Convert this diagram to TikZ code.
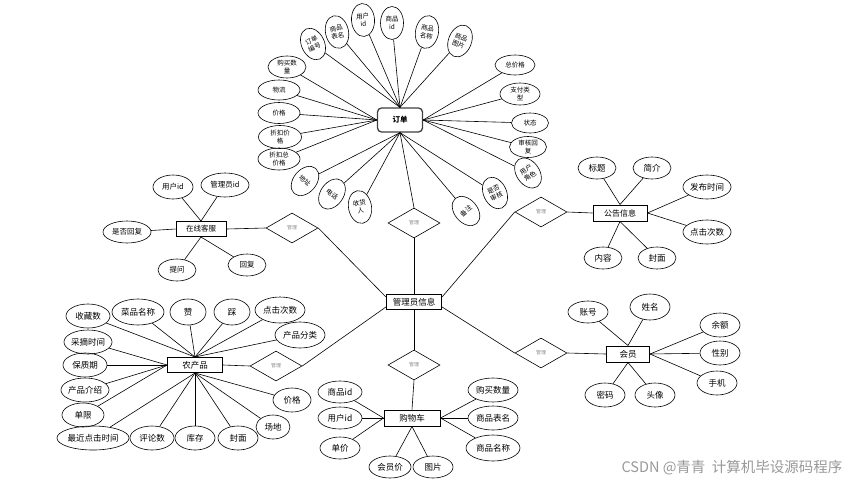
\documentclass[tikz,border=0pt]{standalone}
\usepackage{fontspec}
\setmainfont{Noto Sans CJK SC}
\usetikzlibrary{shapes.geometric}
\begin{document}
\begin{tikzpicture}[x=1pt,y=-1pt,
  ent/.style={draw, line width=1pt, rectangle, inner sep=0pt, font=\fontsize{8.5}{9}\selectfont},
  att/.style={draw, ellipse, line width=0.6pt, inner sep=0pt, align=center, font=\fontsize{8.5}{9}\selectfont},
  katt/.style={att, font=\fontsize{7.5}{8}\selectfont},
  oatt/.style={draw, ellipse, line width=0.6pt, inner sep=0pt, align=center, font=\fontsize{6.5}{7.5}\selectfont},
  ratt/.style={oatt, minimum width=23pt, minimum height=33pt},
  rel/.style={draw, diamond, line width=0.6pt, inner sep=0pt, minimum width=52pt, minimum height=30pt, text=black!45, font=\fontsize{5}{6}\selectfont},
  conn/.style={line width=0.6pt}
]
\fill[white] (0,0) rectangle (850,485);
\useasboundingbox (0,0) rectangle (850,485);

% ---------- central ----------
\node[ent, minimum width=55pt, minimum height=15pt] (admin) at (414,302) {管理员信息};
\node[rel] (d1) at (414,223) {管理};
\node[rel] (d2) at (414,365) {管理};
\node[rel] (d3) at (292,228) {管理};
\node[rel] (d4) at (541,212) {管理};
\node[rel] (d5) at (276,366) {管理};
\node[rel] (d6) at (541,353) {管理};

% ---------- order ----------
\node[ent, rounded corners=4pt, minimum width=45pt, minimum height=24pt, draw=black!75, line width=1.3pt, font=\fontsize{7.5}{8}\selectfont\bfseries] (order) at (400,120) {订单};
\node[ratt, rotate=25] (o1) at (313,44) {订单\\编号};
\node[ratt, rotate=12] (o2) at (337,32) {商品\\表名};
\node[ratt, rotate=4] (o3) at (363,20) {用户\\id};
\node[ratt, rotate=0] (o4) at (392,23) {商品\\id};
\node[ratt, rotate=-10] (o5) at (427,32) {商品\\名称};
\node[ratt, rotate=-22] (o6) at (460,41) {商品\\图片};
\node[oatt, minimum width=40pt, minimum height=20pt] (o7) at (515,65) {总价格};
\node[oatt, minimum width=40pt, minimum height=22pt] (o8) at (520,94) {支付类\\型};
\node[oatt, minimum width=37pt, minimum height=20pt] (o9) at (530,123) {状态};
\node[oatt, minimum width=37pt, minimum height=21pt] (o10) at (528,147) {审核回\\复};
\node[ratt, rotate=35] (o11) at (528,173) {用户\\角色};
\node[ratt, rotate=25] (o12) at (495,193) {是否\\审核};
\node[ratt, rotate=40] (o13) at (466,211) {备注};
\node[ratt, rotate=10] (o14) at (360,207) {收货\\人};
\node[ratt, rotate=-35] (o15) at (332,194) {电话};
\node[ratt, rotate=-40] (o16) at (305,181) {地址};
\node[oatt, minimum width=42pt, minimum height=22pt] (o17) at (279,159) {折扣总\\价格};
\node[oatt, minimum width=43pt, minimum height=23pt] (o18) at (280,137) {折扣价\\格};
\node[oatt, minimum width=42pt, minimum height=21pt] (o19) at (279,113) {价格};
\node[oatt, minimum width=42pt, minimum height=20pt] (o20) at (279,90) {物流};
\node[oatt, minimum width=38pt, minimum height=22pt] (o21) at (287,67) {购买数\\量};
\foreach \n in {o1,o2,o3,o4,o5,o6} \draw[conn] (\n) -- (order.north);
\foreach \n in {o7,o8,o9,o10,o11} \draw[conn] (\n) -- (order.east);
\foreach \n in {o12,o13,o14,o15,o16} \draw[conn] (\n) -- (order.south);
\foreach \n in {o17,o18,o19,o20,o21} \draw[conn] (\n) -- (order.west);

% ---------- online service ----------
\node[ent, minimum width=50pt, minimum height=15pt, font=\fontsize{7.5}{8}\selectfont] (kefu) at (201,229) {在线客服};
\node[katt, minimum width=40pt, minimum height=24pt] (k1) at (173,187) {用户id};
\node[katt, minimum width=48pt, minimum height=24pt] (k2) at (225,185) {管理员id};
\node[katt, minimum width=48pt, minimum height=22pt] (k3) at (127,232) {是否回复};
\node[katt, minimum width=38pt, minimum height=22pt] (k4) at (177,270) {提问};
\node[katt, minimum width=38pt, minimum height=22pt] (k5) at (247,265) {回复};
\foreach \n in {k1,k2} \draw[conn] (\n) -- (kefu.north);
\draw[conn] (k3) -- (kefu.west);
\foreach \n in {k4,k5} \draw[conn] (\n) -- (kefu.south);

% ---------- notice ----------
\node[ent, minimum width=54pt, minimum height=16pt, font=\fontsize{8}{9}\selectfont] (notice) at (620,213) {公告信息};
\node[att, minimum width=38pt, minimum height=22pt] (n1) at (597,168) {标题};
\node[att, minimum width=38pt, minimum height=22pt] (n2) at (652,168) {简介};
\node[att, minimum width=48pt, minimum height=24pt] (n3) at (707,187) {发布时间};
\node[att, minimum width=48pt, minimum height=24pt] (n4) at (707,232) {点击次数};
\node[att, minimum width=38pt, minimum height=22pt] (n5) at (603,258) {内容};
\node[att, minimum width=38pt, minimum height=22pt] (n6) at (657,258) {封面};
\foreach \n in {n1,n2} \draw[conn] (\n) -- (notice.north);
\foreach \n in {n3,n4} \draw[conn] (\n) -- (notice.east);
\foreach \n in {n5,n6} \draw[conn] (\n) -- (notice.south);

% ---------- farm product ----------
\node[ent, minimum width=55pt, minimum height=15pt] (farm) at (195,365) {农产品};
\node[att, minimum width=44pt, minimum height=24pt] (f1) at (88,316) {收藏数};
\node[att, minimum width=52pt, minimum height=26pt] (f2) at (138,312) {菜品名称};
\node[att, minimum width=36pt, minimum height=26pt] (f3) at (188,312) {赞};
\node[att, minimum width=36pt, minimum height=26pt] (f4) at (232,312) {踩};
\node[att, minimum width=50pt, minimum height=26pt] (f5) at (280,310) {点击次数};
\node[att, minimum width=50pt, minimum height=26pt] (f6) at (300,335) {产品分类};
\node[att, minimum width=48pt, minimum height=24pt] (f7) at (88,342) {采摘时间};
\node[att, minimum width=44pt, minimum height=24pt] (f8) at (85,365) {保质期};
\node[att, minimum width=48pt, minimum height=24pt] (f9) at (85,390) {产品介绍};
\node[att, minimum width=42pt, minimum height=24pt] (f10) at (83,415) {单限};
\node[att, minimum width=72pt, minimum height=24pt] (f11) at (93,438) {最近点击时间};
\node[att, minimum width=44pt, minimum height=24pt] (f12) at (152,438) {评论数};
\node[att, minimum width=40pt, minimum height=24pt] (f13) at (195,438) {库存};
\node[att, minimum width=40pt, minimum height=24pt] (f14) at (238,438) {封面};
\node[att, minimum width=34pt, minimum height=24pt] (f15) at (273,427) {场地};
\node[att, minimum width=38pt, minimum height=24pt] (f16) at (292,400) {价格};
\foreach \n in {f1,f2,f3,f4,f5,f6} \draw[conn] (\n) -- (farm.north);
\foreach \n in {f7,f8,f9,f10} \draw[conn] (\n) -- (farm.west);
\foreach \n in {f11,f12,f13,f14,f15,f16} \draw[conn] (\n) -- (farm.south);

% ---------- cart ----------
\node[ent, minimum width=56pt, minimum height=16pt] (cart) at (412,418) {购物车};
\node[att, minimum width=44pt, minimum height=22pt] (c1) at (340,392) {商品id};
\node[att, minimum width=44pt, minimum height=22pt] (c2) at (340,418) {用户id};
\node[att, minimum width=40pt, minimum height=22pt] (c3) at (340,448) {单价};
\node[att, minimum width=42pt, minimum height=22pt] (c4) at (390,467) {会员价};
\node[att, minimum width=40pt, minimum height=22pt] (c5) at (433,467) {图片};
\node[att, minimum width=50pt, minimum height=24pt] (c6) at (493,390) {购买数量};
\node[att, minimum width=50pt, minimum height=24pt] (c7) at (493,418) {商品表名};
\node[att, minimum width=54pt, minimum height=26pt] (c8) at (493,448) {商品名称};
\foreach \n in {c1,c2,c3} \draw[conn] (\n) -- (cart.west);
\foreach \n in {c4,c5} \draw[conn] (\n) -- (cart.south);
\foreach \n in {c6,c7,c8} \draw[conn] (\n) -- (cart.east);

% ---------- member ----------
\node[ent, minimum width=43pt, minimum height=16pt] (member) at (628,354) {会员};
\node[att, minimum width=40pt, minimum height=22pt] (m1) at (588,312) {账号};
\node[att, minimum width=40pt, minimum height=26pt] (m2) at (650,307) {姓名};
\node[att, minimum width=40pt, minimum height=24pt] (m3) at (720,325) {余额};
\node[att, minimum width=40pt, minimum height=24pt] (m4) at (720,353) {性别};
\node[att, minimum width=40pt, minimum height=24pt] (m5) at (717,383) {手机};
\node[att, minimum width=40pt, minimum height=24pt] (m6) at (605,395) {密码};
\node[att, minimum width=40pt, minimum height=24pt] (m7) at (655,395) {头像};
\foreach \n in {m1,m2} \draw[conn] (\n) -- (member.north);
\foreach \n in {m3,m4,m5} \draw[conn] (\n) -- (member.east);
\foreach \n in {m6,m7} \draw[conn] (\n) -- (member.south);

% ---------- relationship connectors ----------
\draw[conn] (order.south) -- (d1.north);
\draw[conn] (d1.south) -- (admin.north);
\draw[conn] (admin.south) -- (d2.north);
\draw[conn] (d2.south) -- (cart.north);
\draw[conn] (kefu.east) -- (d3.west);
\draw[conn] (d3.east) -- (admin.170);
\draw[conn] (notice.west) -- (d4.east);
\draw[conn] (d4.west) -- (admin.10);
\draw[conn] (farm.east) -- (d5.west);
\draw[conn] (d5.east) -- (admin.190);
\draw[conn] (member.west) -- (d6.east);
\draw[conn] (d6.west) -- (admin.350);

% ---------- watermark ----------
\node[anchor=east, text=black!40, font=\fontsize{14.5}{15}\selectfont] (wm) at (846,468) {CSDN @青青\ \ 计算机毕设源码程序};
\end{tikzpicture}
\end{document}
